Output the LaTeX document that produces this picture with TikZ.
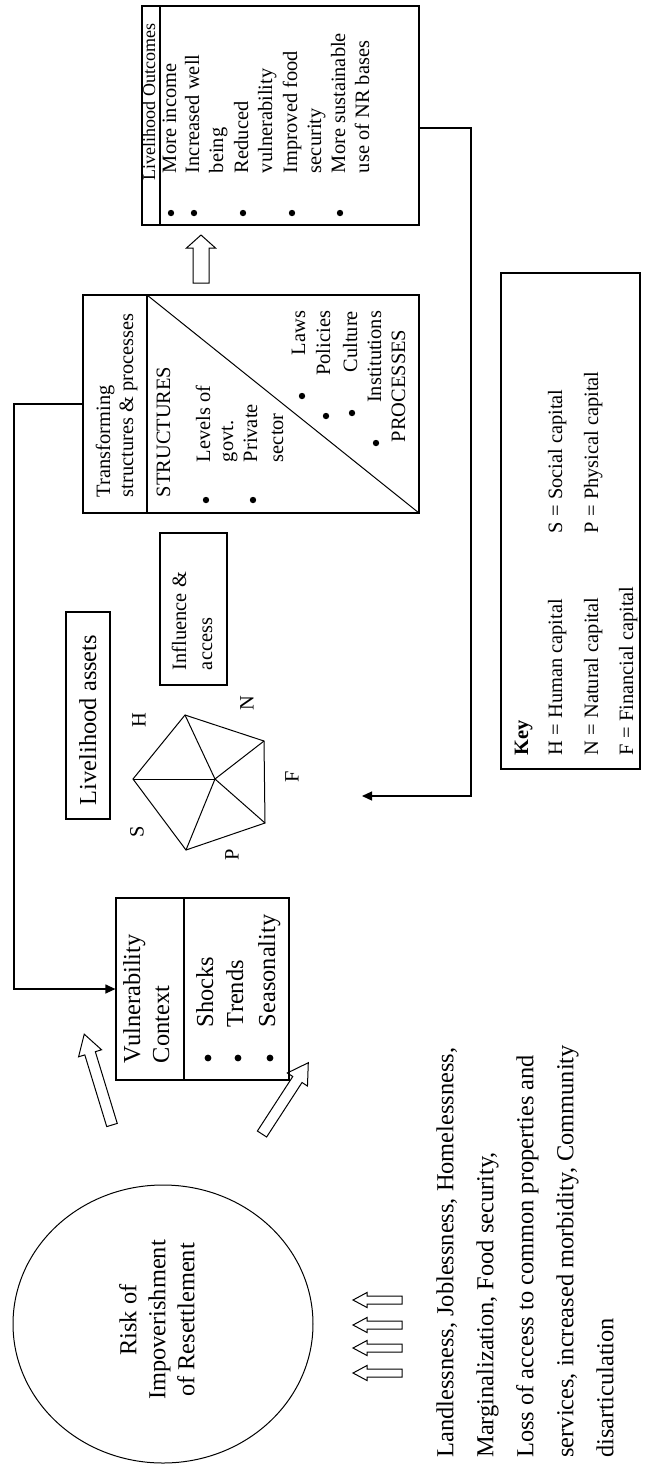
\documentclass[tikz,border=0pt]{standalone}
\usepackage{fontspec}
\setmainfont{Liberation Serif}
\usetikzlibrary{arrows.meta,shapes.geometric}
\begin{document}
\begin{tikzpicture}[x=0.5pt,y=-0.5pt,
  box/.style={draw, line width=0.6pt, inner sep=0},
  lbl/.style={rotate=90, inner sep=0, outer sep=0, anchor=west, text height=0.7em, text depth=0.2em},
  rlbl/.style={lbl, anchor=east},
  big/.style={font=\fontsize{12.2}{14.5}\selectfont},
  small/.style={font=\fontsize{10.2}{12}\selectfont},
  conn/.style={line width=0.6pt},
  endarrow/.style={-{Triangle[length=5pt,width=4.5pt]}},
  pics/harrow/.style n args={4}{code={\draw[line width=0.5pt] (0,{-#2}) -- ({#1-#4},{-#2}) -- ({#1-#4},{-#3}) -- (#1,0) -- ({#1-#4},#3) -- ({#1-#4},#2) -- (0,#2) -- cycle;}}
]
\useasboundingbox (0,0) rectangle (646,1464);

% ---------- Livelihood outcomes ----------
\node[box, minimum width=138.5pt, minimum height=109.5pt] (outcome) at (280.5,115.5) {};
\draw[conn] (160,6) -- (160,225);
\node[lbl, font=\fontsize{9}{11}\selectfont] (outtitle) at (150,180) {Livelihood Outcomes};
\node[lbl, small] (o1) at (171,173) {More income};
\node[lbl, small] (o2) at (194,173) {Increased well};
\node[lbl, small] (o2b) at (218,173) {being};
\node[lbl, small] (o3) at (243,173) {Reduced};
\node[lbl, small] (o3b) at (267,173) {vulnerability};
\node[lbl, small] (o4) at (292,173) {Improved food};
\node[lbl, small] (o4b) at (316,173) {security};
\node[lbl, small] (o5) at (340,173) {More sustainable};
\node[lbl, small] (o5b) at (364,173) {use of NR bases};
\foreach \x in {171,194,243,292,340} \fill (\x,213) circle (3.2);

% up hollow arrow
\pic[rotate=90] at (201,283) {harrow={48}{8}{14.5}{13}};

% ---------- Transforming structures ----------
\node[box, minimum width=168pt, minimum height=109pt] (trans) at (251,404) {};
\draw[conn] (147,295) -- (147,513);
\draw[line width=0.5pt] (147,295) -- (419,513);
\node[lbl, small] (t1) at (105,497) {Transforming};
\node[lbl, small] (t2) at (128,497) {structures \& processes};
\node[lbl, small] (struct) at (165,497) {STRUCTURES};
\node[lbl, small] (s1) at (205,462) {Levels of};
\node[lbl, small] (s1b) at (228,462) {govt.};
\node[lbl, small] (s2) at (252,462) {Private};
\node[lbl, small] (s2b) at (278,462) {sector};
\fill (206,500) circle (3.2);
\fill (253,500) circle (3.2);
\node[rlbl, small] (p1) at (300,311) {Laws};
\node[rlbl, small] (p2) at (325,311) {Policies};
\node[rlbl, small] (p3) at (352,311) {Culture};
\node[rlbl, small] (p4) at (376,311) {Institutions};
\node[lbl, small] (proc) at (400,442) {PROCESSES};
\fill (302,396) circle (3.2);
\fill (326,416) circle (3.2);
\fill (352,413) circle (3.2);
\fill (376,443) circle (3.2);

% ---------- Influence & access ----------
\node[box, minimum width=33.5pt, minimum height=76pt] (infl) at (193.5,609) {};
\node[lbl, small] (i1) at (181,670) {Influence \&};
\node[lbl, small] (i2) at (207,670) {access};

% ---------- Livelihood assets ----------
\node[box, minimum width=22pt, minimum height=103.5pt] (assets) at (88,715.5) {};
\node[lbl, big] (assetstext) at (91,805) {Livelihood assets};

% pentagon
\coordinate (pa) at (185,715);
\coordinate (pb) at (133,779);
\coordinate (pc) at (186,850);
\coordinate (pd) at (265,823);
\coordinate (pe) at (264,741);
\coordinate (po) at (215,779);
\draw[line width=0.5pt] (pa) -- (pb) -- (pc) -- (pd) -- (pe) -- cycle;
\foreach \v in {pa,pb,pc,pd,pe} \draw[line width=0.5pt] (po) -- (\v);
\node[rotate=90, small, inner sep=0] (lH) at (139,720) {H};
\node[rotate=90, small, inner sep=0] (lN) at (247,703) {N};
\node[rotate=90, small, inner sep=0] (lF) at (292,777) {F};
\node[rotate=90, small, inner sep=0] (lP) at (232,855) {P};
\node[rotate=90, small, inner sep=0] (lS) at (137,832) {S};

% ---------- Vulnerability context ----------
\node[box, minimum width=86.5pt, minimum height=91pt] (vuln) at (202.5,989) {};
\draw[conn] (184,898) -- (184,1080);
\node[lbl, big] (v1) at (135,1063) {Vulnerability};
\node[lbl, big] (v2) at (164,1063) {Context};
\node[lbl, big] (vs) at (208,1027) {Shocks};
\node[lbl, big] (vt) at (238,1027) {Trends};
\node[lbl, big] (vse) at (270,1027) {Seasonality};
\foreach \x in {208,238,270} \fill (\x,1058) circle (3.4);

% ---------- Key ----------
\node[box, minimum width=69.5pt, minimum height=248pt] (key) at (570.5,521) {};
\node[lbl, small, font=\fontsize{10.2}{12}\selectfont\bfseries] (k0) at (523,755) {Key};
\node[lbl, small] (k1) at (557,755) {H = Human capital};
\node[lbl, small] (k2) at (593,755) {N = Natural capital};
\node[lbl, small] (k3) at (628,755) {F = Financial capital};
\node[lbl, small] (k4) at (557,533) {S = Social capital};
\node[lbl, small] (k5) at (593,533) {P = Physical capital};

% ---------- Risk circle ----------
\node[ellipse, draw, line width=0.5pt, minimum width=150pt, minimum height=139pt] (risk) at (163,1324) {};
\node[rotate=90, big, align=center, inner sep=0] (risktext) at (157,1320) {Risk of\\Impoverishment\\of Resettlement};

% small hollow arrows
\foreach \y in {1300,1325,1348,1373} \pic[rotate=180] at (402,\y) {harrow={49}{4}{7.5}{14}};

% diagonal hollow arrows
\pic[rotate=107] at (112,1125) {harrow={95}{5.5}{12}{20}};
\pic[rotate=57] at (262,1134) {harrow={85}{5.5}{12}{20}};

% bottom text
\node[rotate=90, anchor=north west, inner sep=0, align=left, font=\fontsize{12.2}{20}\selectfont] (risks) at (436,1458)
 {Landlessness, Joblessness, Homelessness,\\Marginalization, Food security,\\Loss of access to common properties and\\services, increased morbidity, Community\\disarticulation};

% ---------- Connectors ----------
\coordinate (c1) at (14,404);
\draw[conn, endarrow] (trans.west) -- (c1) |- (vuln.west);
\coordinate (c2) at (471,128);
\coordinate (assetin) at (362,796);
\draw[conn, endarrow] ([yshift=-6.25pt]outcome.east) -- (c2) |- (assetin);
\end{tikzpicture}
\end{document}
